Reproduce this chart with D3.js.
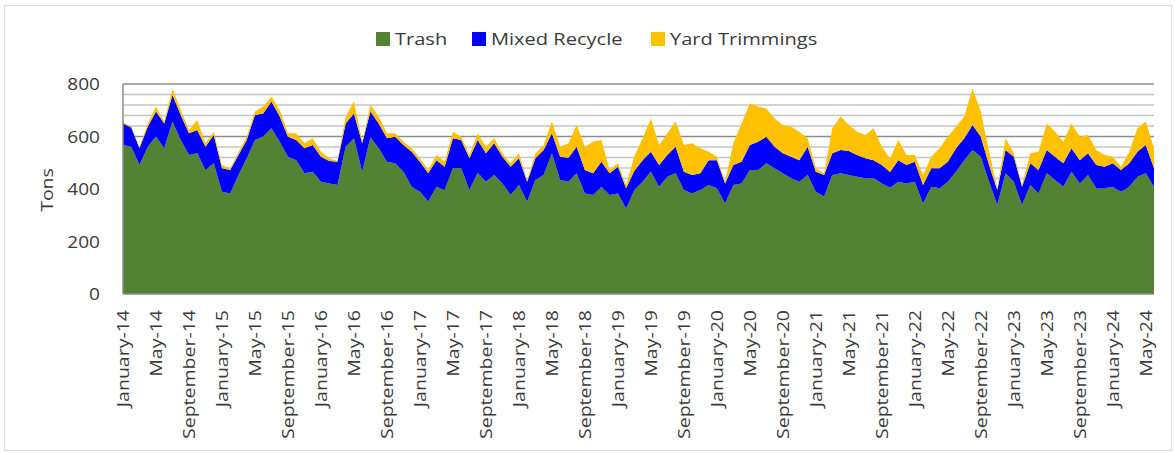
<!DOCTYPE html>
<html lang="en">
<head>
<meta charset="utf-8">
<title>Tons by month</title>
<script src="https://d3js.org/d3.v7.min.js"></script>
<style>
body { margin: 0; background: #fff; }
svg { display: block; font-family: "Open Sans", sans-serif; }
.lbl { fill: #3a3a3a; }
</style>
</head>
<body>
<svg id="chart" width="1175" height="454"></svg>
<script>

// monthly categories, January 2014 .. June 2024
var firstMonth = new Date(2014, 0, 1);
var monthCount = 126;
var monthNames = ["January","February","March","April","May","June","July",
                  "August","September","October","November","December"];

var yTicks = [0, 200, 400, 600, 800];
var seriesNames = ["Trash", "Mixed Recycle", "Yard Trimmings"];
var seriesColors = ["#548235", "#0000ff", "#ffc000"];

var trash = [568,561,491,561,600,555,656,587,530,536,472,498,
             390,383,453,517,587,600,631,580,523,510,460,466,
             428,421,415,561,593,466,597,555,504,498,466,409,
             390,352,409,396,479,479,396,462,428,453,421,377,
             415,352,434,453,536,434,428,460,383,377,409,377,
             383,326,396,428,466,409,447,460,396,383,396,415,
             403,345,415,421,472,472,498,479,460,441,428,453,
             390,371,453,460,453,447,441,441,421,405,428,421,
             428,345,409,403,428,466,510,549,523,428,339,460,
             428,339,415,383,460,434,409,466,421,453,403,403,
             409,390,409,447,460,409];

var recycle = [82,73,64,76,95,95,102,95,82,89,89,108,
               89,89,77,70,95,88,102,96,76,77,95,102,
               95,86,89,89,95,108,98,95,89,101,102,133,
               114,108,101,89,114,108,121,125,108,121,102,108,
               102,76,83,96,76,89,91,101,89,83,95,83,
               102,77,74,82,76,82,83,101,70,70,64,95,
               107,76,76,83,96,108,101,82,76,82,82,108,
               76,82,83,89,92,83,76,69,70,60,82,70,
               76,70,70,76,76,89,83,95,76,63,57,89,
               95,70,83,89,89,89,89,89,89,83,88,82,
               89,82,89,95,108,70];

var yard = [5,4,6,13,19,6,25,19,13,38,13,12,
            12,7,10,12,13,26,19,25,13,25,19,25,
            19,10,3,26,45,6,25,26,19,13,12,13,
            13,12,20,19,25,12,13,25,25,19,13,13,
            19,6,19,19,45,38,55,83,89,120,83,12,
            13,12,55,83,127,77,82,96,102,121,95,32,
            13,7,83,146,158,134,108,108,108,114,108,32,
            13,7,95,127,99,88,89,121,70,50,77,39,
            26,38,44,76,95,82,83,139,96,51,7,44,
            13,6,38,70,101,95,82,95,89,70,58,45,
            25,13,44,89,89,76];

var months = d3.timeMonth.range(firstMonth, d3.timeMonth.offset(firstMonth, monthCount));
var rows = months.map(function(m, i) {
  return { month: m, "Trash": trash[i], "Mixed Recycle": recycle[i], "Yard Trimmings": yard[i] };
});

var svg = d3.select("#chart"),
    margin = {top: 84, right: 21, bottom: 160, left: 123},
    width = +svg.attr("width") - margin.left - margin.right,
    height = +svg.attr("height") - margin.top - margin.bottom;

// outer frame
svg.append("rect")
    .attr("x", 4.5).attr("y", 5.5)
    .attr("width", 1167).attr("height", 445)
    .attr("fill", "none").attr("stroke", "#d9d9d9");

var x = d3.scaleLinear().domain([0, monthCount - 1]).range([0, width]);
var y = d3.scaleLinear().domain([0, 800]).range([height, 0]);

var g = svg.append("g")
    .attr("transform", "translate(" + margin.left + "," + margin.top + ")");

// gridlines: minor every 40, major every 200
var grid = d3.range(40, 801, 40);
g.selectAll(".grid")
  .data(grid)
  .enter().append("line")
    .attr("x1", 0).attr("x2", width)
    .attr("y1", function(d) { return y(d); })
    .attr("y2", function(d) { return y(d); })
    .attr("stroke", function(d) { return d % 200 === 0 ? "#8c8c8c" : "#c4c4c4"; })
    .attr("stroke-width", 1.5);

var stack = d3.stack().keys(seriesNames);
var layers = stack(rows);

var area = d3.area()
    .x(function(d, i) { return x(i); })
    .y0(function(d) { return y(d[0]); })
    .y1(function(d) { return y(d[1]); });

g.selectAll(".layer")
  .data(layers)
  .enter().append("path")
    .attr("class", "layer")
    .attr("fill", function(d, i) { return seriesColors[i]; })
    .attr("d", area);

// axis lines
g.append("line")
    .attr("x1", 0).attr("x2", 0).attr("y1", 0).attr("y2", height)
    .attr("stroke", "#8c8c8c").attr("stroke-width", 1.5);
g.append("line")
    .attr("x1", 0).attr("x2", width).attr("y1", height).attr("y2", height)
    .attr("stroke", "#8c8c8c").attr("stroke-width", 1.5);

// y labels
g.selectAll(".ylab")
  .data(yTicks)
  .enter().append("text")
    .attr("class", "lbl")
    .attr("transform", function(d) { return "translate(-23," + y(d) + ") scale(1.12,1)"; })
    .attr("dy", "0.36em")
    .attr("text-anchor", "end")
    .style("font-size", "17px")
    .text(function(d) { return d; });

// x labels, every fourth month
var xLabels = d3.range(0, monthCount, 4);
g.selectAll(".xlab")
  .data(xLabels)
  .enter().append("text")
    .attr("class", "lbl")
    .attr("transform", function(i) { return "translate(" + x(i) + "," + (height + 16) + ") rotate(-90) scale(1.22,1)"; })
    .attr("dy", "0.36em")
    .attr("text-anchor", "end")
    .style("font-size", "16px")
    .text(function(i) {
      var m = months[i];
      return monthNames[m.getMonth()] + "-" + String(m.getFullYear()).slice(2);
    });

svg.append("text")
    .attr("class", "lbl")
    .attr("transform", "translate(47,190) rotate(-90) scale(1.22,1)")
    .attr("dy", "0.36em")
    .attr("text-anchor", "middle")
    .style("font-size", "16px")
    .text("Tons");

// legend
var legendX = [376, 472, 651];
var legend = svg.selectAll(".legend")
  .data(seriesNames)
  .enter().append("g")
    .attr("transform", function(d, i) { return "translate(" + legendX[i] + ",32)"; });

legend.append("rect")
    .attr("width", 14).attr("height", 14)
    .attr("fill", function(d, i) { return seriesColors[i]; });

legend.append("text")
    .attr("class", "lbl")
    .attr("transform", "translate(19,13) scale(1.18,1)")
    .style("font-size", "17px")
    .text(function(d) { return d; });

</script>
</body>
</html>
